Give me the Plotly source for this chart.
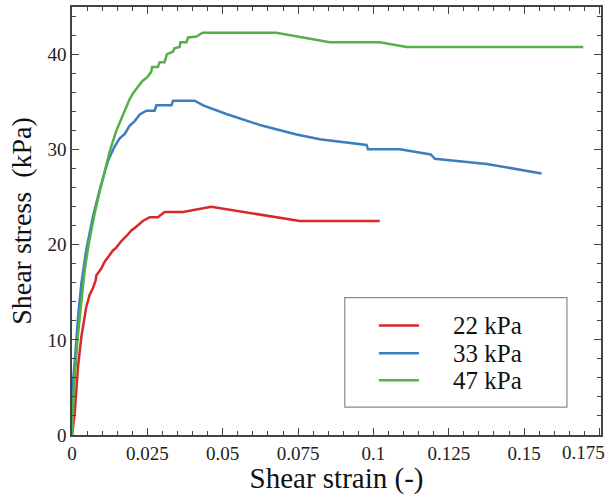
import plotly.graph_objects as go

# ---- data ----
names = ["22 kPa", "33 kPa", "47 kPa"]
colors = ["#d7282a", "#3c7dbd", "#55b047"]

x22 = [0, 0.0009, 0.002, 0.0031, 0.0047, 0.0058, 0.0069, 0.0078, 0.0081, 0.0097, 0.0108,
       0.0125, 0.0136, 0.0147, 0.0164, 0.018, 0.0197, 0.0213, 0.0235, 0.0258, 0.0285,
       0.0307, 0.0368, 0.0462, 0.0623, 0.0756, 0.1021]
y22 = [0, 2.3, 7.2, 10.3, 13.4, 14.7, 15.4, 16.2, 16.8, 17.5, 18.2,
       19.0, 19.4, 19.7, 20.4, 20.9, 21.5, 21.9, 22.5, 22.9, 22.9,
       23.45, 23.45, 24.0, 23.2, 22.5, 22.5]

x33 = [0, 0.0003, 0.0012, 0.002, 0.0031, 0.0047, 0.0069, 0.0092, 0.0119, 0.0141, 0.0158,
       0.0175, 0.0191, 0.0208, 0.0225, 0.0247, 0.0274, 0.028, 0.033, 0.0335, 0.0407,
       0.0435, 0.0512, 0.0623, 0.0745, 0.0822, 0.0977, 0.0982, 0.1088, 0.119, 0.1204,
       0.1376, 0.1558]
y33 = [0, 5.4, 8.9, 12.4, 15.9, 19.4, 22.9, 25.8, 28.8, 30.3, 31.2,
       31.65, 32.5, 33.0, 33.7, 34.1, 34.1, 34.66, 34.66, 35.15, 35.15,
       34.66, 33.75, 32.6, 31.6, 31.1, 30.5, 30.05, 30.05, 29.5, 29.04,
       28.5, 27.5]

x47 = [0, 0.0006, 0.0018, 0.003, 0.0042, 0.0055, 0.0075, 0.0095, 0.0114, 0.0125, 0.0147,
       0.0164, 0.018, 0.0191, 0.0202, 0.0219, 0.0233, 0.0249, 0.0263, 0.0266, 0.0285, 0.0291,
       0.0307, 0.0315, 0.0335, 0.034, 0.0357, 0.036, 0.038, 0.0385, 0.0413, 0.0433,
       0.0678, 0.0855, 0.1021, 0.111, 0.1696]
y47 = [0, 4.5, 10.0, 14.0, 17.3, 20.0, 23.3, 26.0, 28.5, 29.8, 32.0,
       33.3, 34.4, 35.3, 35.9, 36.6, 37.2, 37.6, 38.2, 38.7, 38.7, 39.2,
       39.2, 40.05, 40.3, 40.66, 40.8, 41.3, 41.3, 41.8, 41.9, 42.3,
       42.3, 41.3, 41.3, 40.8, 40.8]

series_x = [x22, x33, x47]
series_y = [y22, y33, y47]

x_tickvals = [0, 0.025, 0.05, 0.075, 0.1, 0.125, 0.15, 0.175]
x_ticktext = ["0", "0.025", "0.05", "0.075", "0.1", "0.125", "0.15", "0.175"]

# legend placement (data coordinates)
leg_box = dict(x0=0.0905, x1=0.1642, y0=2.93, y1=14.45)
leg_line_x = (0.1018, 0.1151)
leg_text_x = 0.1258
leg_rows_y = [11.5, 8.6, 5.76]

FONT = "Liberation Serif, Times New Roman, serif"
TICKSIZE = 19

fig = go.Figure()
for nm, c, xs, ys in zip(names, colors, series_x, series_y):
    fig.add_trace(go.Scatter(x=xs, y=ys, mode="lines", name=nm,
                             line=dict(color=c, width=2.5), showlegend=False))

# manual legend
fig.add_shape(type="rect", xref="x", yref="y", **leg_box,
              line=dict(color="#8a8a8a", width=1.2), fillcolor="white", layer="below")
for nm, c, yy in zip(names, colors, leg_rows_y):
    fig.add_shape(type="line", xref="x", yref="y", x0=leg_line_x[0], x1=leg_line_x[1],
                  y0=yy, y1=yy, line=dict(color=c, width=2.5))
    fig.add_annotation(x=leg_text_x, y=yy, xref="x", yref="y", text=nm, showarrow=False,
                       xanchor="left", yanchor="middle",
                       font=dict(family=FONT, size=25, color="#111"))

# last x tick label would overflow the page: draw it right-aligned at the page edge
fig.add_annotation(x=1.0, y=0, xref="paper", yref="paper", text=x_ticktext[-1],
                   showarrow=False, xanchor="right", yanchor="top", xshift=6, yshift=-5,
                   font=dict(family=FONT, size=TICKSIZE, color="#222"))

axis_common = dict(showline=True, linecolor="#444", linewidth=1.5, mirror="ticks",
                   ticks="inside", ticklen=7, tickwidth=1.2, tickcolor="#444",
                   showgrid=False, zeroline=False,
                   tickfont=dict(family=FONT, size=TICKSIZE, color="#222"))

fig.update_layout(
    width=609, height=495,
    margin=dict(l=72, r=8, t=5, b=60),
    paper_bgcolor="white", plot_bgcolor="white",
    xaxis=dict(range=[0, 0.1755], tickmode="array", tickvals=x_tickvals,
               ticktext=x_ticktext[:-1] + [""],
               minor=dict(tickmode="linear", tick0=0, dtick=0.005, ticks="inside",
                          ticklen=4, tickcolor="#444"),
               title=dict(text="Shear strain (-)", standoff=2,
                          font=dict(family=FONT, size=29, color="#111")),
               **axis_common),
    yaxis=dict(range=[0, 45], tickmode="linear", tick0=0, dtick=10,
               minor=dict(dtick=2, ticks="inside", ticklen=4, tickcolor="#444"),
               title=dict(text="Shear stress  (kPa)", standoff=8,
                          font=dict(family=FONT, size=28, color="#111")),
               **axis_common),
)

fig.write_html("out.html")
